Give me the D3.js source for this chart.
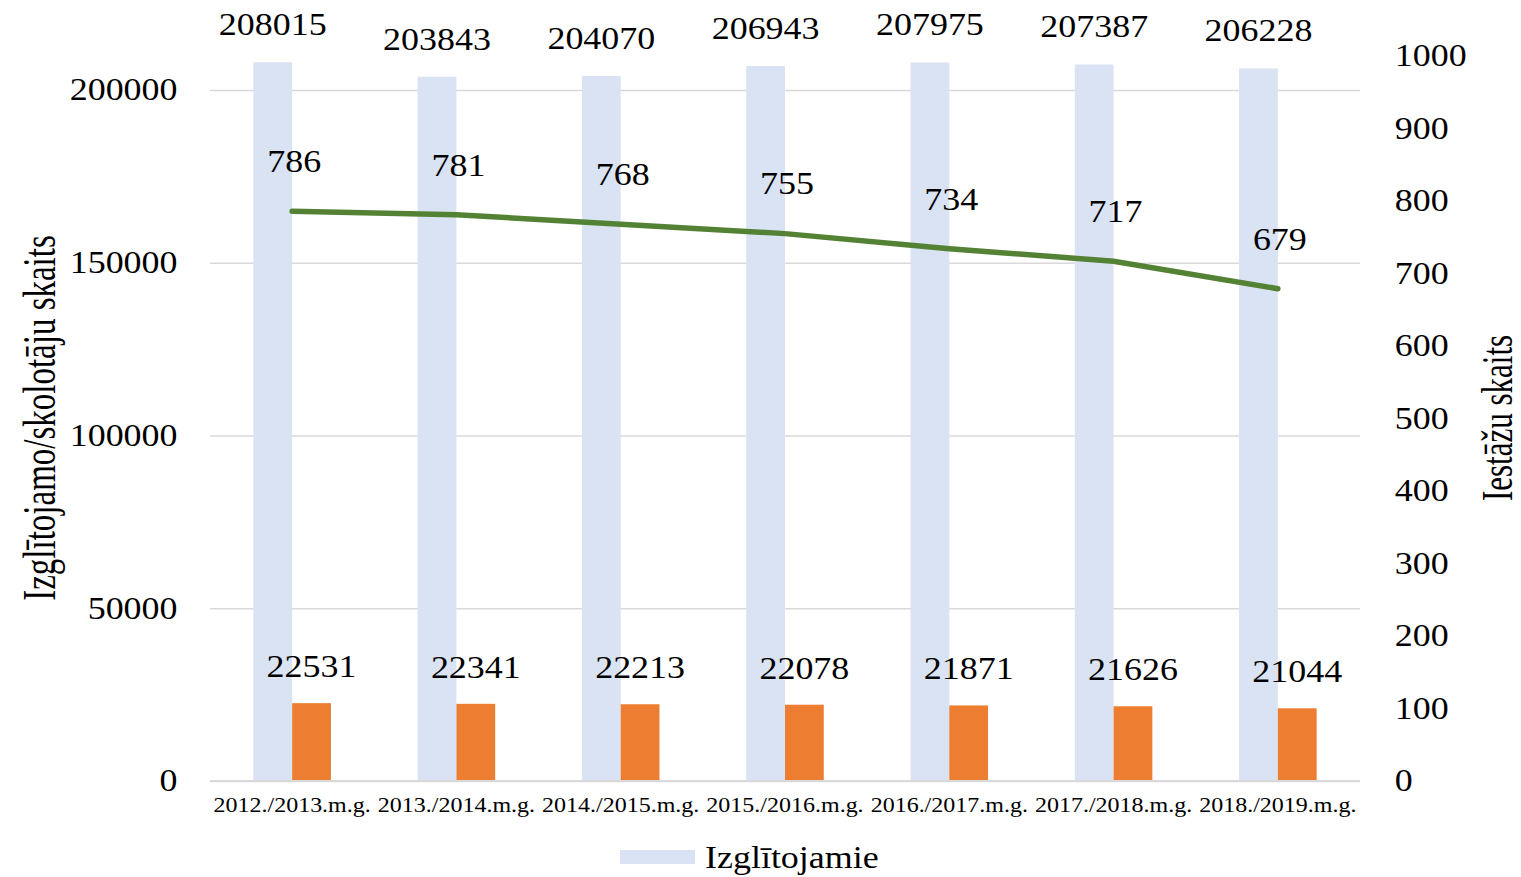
<!DOCTYPE html>
<html>
<head>
<meta charset="utf-8">
<script src="https://cdn.jsdelivr.net/npm/d3@7"></script>
<style>
  body { margin: 0; background: #fff; }
  text { font-family: "Liberation Serif", "Times New Roman", serif; fill: #000; }
</style>
</head>
<body>
<div id="chart"></div>
<script>
// data
var years = ["2012./2013.m.g.", "2013./2014.m.g.", "2014./2015.m.g.", "2015./2016.m.g.",
             "2016./2017.m.g.", "2017./2018.m.g.", "2018./2019.m.g."];
var students = [208015, 203843, 204070, 206943, 207975, 207387, 206228];
var teachers = [22531, 22341, 22213, 22078, 21871, 21626, 21044];
var schools = [786, 781, 768, 755, 734, 717, 679];
var leftTicks = [0, 50000, 100000, 150000, 200000];
var rightTicks = [0, 100, 200, 300, 400, 500, 600, 700, 800, 900, 1000];

var svgWidth = 1521;
var svgHeight = 877;
var plot = { left: 210, right: 1360, top: 56, bottom: 781 };
var stretch = 1.16;   // the original text is a bit wider than normal

var svg = d3.select("#chart")
  .append("svg")
  .attr("width", svgWidth)
  .attr("height", svgHeight);

// scales
var x0 = d3.scaleBand()
  .domain(years)
  .range([plot.left, plot.right])
  .paddingInner(0.528)
  .paddingOuter(0.264);

var x1 = d3.scaleBand()
  .domain(["s", "t"])
  .range([0, x0.bandwidth()]);

var yLeft = d3.scaleLinear()
  .domain([0, 209840])
  .range([plot.bottom, plot.top]);

var yRight = d3.scaleLinear()
  .domain([0, 1000])
  .range([plot.bottom, plot.top]);

function center(d) { return x0(d) + x0.bandwidth() / 2; }

// text helper: place at x,y and stretch horizontally
function place(sel, x, y) {
  return sel.attr("transform", (d, i) =>
    `translate(${typeof x === "function" ? x(d, i) : x}, ${typeof y === "function" ? y(d, i) : y}) scale(${stretch},1)`);
}

// gridlines
svg.append("g")
  .attr("transform", `translate(${plot.left},0)`)
  .call(d3.axisLeft(yLeft).tickValues(leftTicks).tickSize(-(plot.right - plot.left)).tickFormat(""))
  .call(g => g.select(".domain").remove())
  .call(g => g.selectAll("line").attr("stroke", "#d9d9d9").attr("stroke-width", 1.5));

// left axis
svg.append("g")
  .attr("transform", `translate(${plot.left},0)`)
  .call(d3.axisLeft(yLeft).tickValues(leftTicks).tickSize(0).tickPadding(28).tickFormat(d3.format("d")))
  .call(g => g.select(".domain").remove())
  .call(g => g.selectAll("text")
    .style("font-size", "31px")
    .style("font-family", "Liberation Serif")
    .attr("transform", `scale(${stretch},1)`));

// right axis
svg.append("g")
  .attr("transform", `translate(${plot.right},0)`)
  .call(d3.axisRight(yRight).tickValues(rightTicks).tickSize(0).tickPadding(30).tickFormat(d3.format("d")))
  .call(g => g.select(".domain").remove())
  .call(g => g.selectAll("text")
    .style("font-size", "31px")
    .style("font-family", "Liberation Serif")
    .attr("transform", `scale(${stretch},1)`));

// bars: students
svg.selectAll(".barS")
  .data(years)
  .enter()
  .append("rect")
  .attr("class", "barS")
  .attr("x", d => x0(d) + x1("s"))
  .attr("width", x1.bandwidth())
  .attr("y", (d, i) => yLeft(students[i]))
  .attr("height", (d, i) => plot.bottom - yLeft(students[i]))
  .attr("fill", "#dae3f3");

// bars: teachers
svg.selectAll(".barT")
  .data(years)
  .enter()
  .append("rect")
  .attr("class", "barT")
  .attr("x", d => x0(d) + x1("t"))
  .attr("width", x1.bandwidth())
  .attr("y", (d, i) => yLeft(teachers[i]))
  .attr("height", (d, i) => plot.bottom - yLeft(teachers[i]))
  .attr("fill", "#ed7d31");

// baseline
svg.append("line")
  .attr("x1", plot.left).attr("x2", plot.right)
  .attr("y1", plot.bottom).attr("y2", plot.bottom)
  .attr("stroke", "#d9d9d9").attr("stroke-width", 2);

// x axis labels
svg.append("g")
  .attr("transform", `translate(0,${plot.bottom})`)
  .call(d3.axisBottom(x0).tickSize(0).tickPadding(17))
  .call(g => g.select(".domain").remove())
  .call(g => g.selectAll(".tick").attr("transform", d => `translate(${center(d)},0)`))
  .call(g => g.selectAll("text")
    .style("font-size", "20px")
    .style("font-family", "Liberation Serif")
    .attr("transform", "scale(1.2,1)"));

// institutions line
var line = d3.line()
  .x((d, i) => center(years[i]))
  .y(d => yRight(d));

svg.append("path")
  .datum(schools)
  .attr("d", line)
  .attr("fill", "none")
  .attr("stroke", "#548235")
  .attr("stroke-width", 5.5)
  .attr("stroke-linecap", "round");

// value labels
place(svg.selectAll(".lblS")
  .data(students)
  .enter()
  .append("text")
  .attr("class", "lblS"),
  (d, i) => x0(years[i]) + x1("s") + x1.bandwidth() / 2,
  d => yLeft(d) - 38)
  .attr("text-anchor", "middle")
  .attr("dy", "0.35em")
  .style("font-size", "31px")
  .text(d => d);

place(svg.selectAll(".lblT")
  .data(teachers)
  .enter()
  .append("text")
  .attr("class", "lblT"),
  (d, i) => x0(years[i]) + x1("t") + x1.bandwidth() / 2,
  d => yLeft(d) - 37)
  .attr("text-anchor", "middle")
  .attr("dy", "0.35em")
  .style("font-size", "31px")
  .text(d => d);

place(svg.selectAll(".lblL")
  .data(schools)
  .enter()
  .append("text")
  .attr("class", "lblL"),
  (d, i) => center(years[i]) + 2,
  d => yRight(d) - 50)
  .attr("text-anchor", "middle")
  .attr("dy", "0.35em")
  .style("font-size", "31px")
  .text(d => d);

// axis titles
svg.append("text")
  .attr("transform", "translate(39,418) rotate(-90) scale(1,1.38)")
  .attr("text-anchor", "middle")
  .attr("dy", "0.35em")
  .style("font-size", "33px")
  .text("Izglītojamo/skolotāju skaits");

svg.append("text")
  .attr("transform", "translate(1496,418) rotate(-90) scale(1,1.45)")
  .attr("text-anchor", "middle")
  .attr("dy", "0.35em")
  .style("font-size", "31px")
  .text("Iestāžu skaits");

// legend
svg.append("rect")
  .attr("x", 620).attr("y", 850)
  .attr("width", 75).attr("height", 14)
  .attr("fill", "#dae3f3");

svg.append("text")
  .attr("transform", `translate(705,857) scale(${stretch},1)`)
  .attr("dy", "0.35em")
  .style("font-size", "31px")
  .text("Izglītojamie");
</script>
</body>
</html>
